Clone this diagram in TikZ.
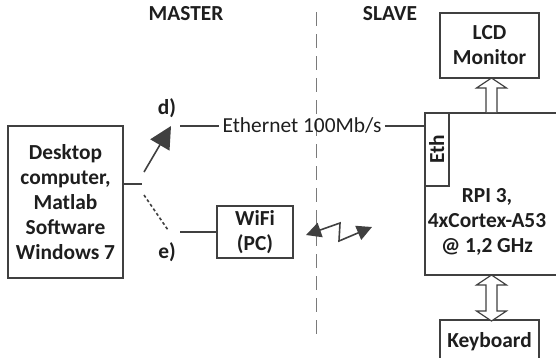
\documentclass[tikz,border=0pt]{standalone}
\usepackage{fontspec}
\setmainfont{Carlito}
\usepackage{tikz}
\usetikzlibrary{arrows.meta,positioning,calc}
\definecolor{Line}{HTML}{404040}
\definecolor{Txt}{HTML}{1E1E1E}
\definecolor{Sep}{HTML}{7A7A7A}

\begin{document}
\begin{tikzpicture}[
 x=1pt,y=-1pt,
 font=\fontsize{21.4}{25}\selectfont,text=Txt,
 b/.style={draw=Line,line width=1.6pt,align=center,font=\fontsize{21.4}{25}\selectfont\bfseries,inner sep=0pt},
 l/.style={font=\fontsize{21.4}{25}\selectfont\bfseries},
 w/.style={draw=Line,line width=1.6pt},
 hollow/.style={draw=Line,line width=1.2pt,fill=white,line join=miter},
 arr/.style={-{Triangle[length=22pt,width=22pt]},draw=Line,fill=Line,line width=1.6pt},
 zap/.style={{Triangle[length=15pt,width=15pt]}-{Triangle[length=15pt,width=15pt]},draw=Line,line width=1.6pt}
]
\clip (0,0) rectangle (556,357);
\node[l] (master) at (186,14) {MASTER};
\node[l] (slave) at (390,14) {SLAVE};
\draw[Sep,line width=1pt,dash pattern=on 14pt off 8pt] (316,12) -- (316,334);
\node[b,minimum width=115pt,minimum height=152pt] (pc) at (65.5,202) {Desktop\\computer,\\Matlab\\Software\\Windows 7};
\node[b,minimum width=76pt,minimum height=52pt] (wifi) at (255,232) {WiFi\\(PC)};
\node[b,minimum width=99pt,minimum height=65pt] (lcd) at (489.5,45.5) {LCD\\Monitor};
\node[b,minimum width=99pt,minimum height=44pt] (kbd) at (489.5,342) {Keyboard};
\node[b,minimum width=150pt,minimum height=162pt,anchor=north west] (rpi) at (424,112) {};
\node[l,align=center] (rpitxt) at (487,222) {RPI 3,\\4xCortex-A53\\@ 1,2 GHz};
\node[b,minimum width=24pt,minimum height=73pt,anchor=north west] (eth) at (424,112) {};
\node[l,rotate=90] (ethtxt) at (eth.center) {Eth};
\node (ethlbl) at (302,126) {Ethernet 100Mb/s};
\node[l] (d) at (167,108) {d)};
\node[l] (e) at (167,252) {e)};
\coordinate (pcout) at (142,184);
\coordinate (dtail) at (144,172);
\coordinate (dtip) at (171,126);
\coordinate (dend) at (180,126);
\coordinate (etail) at (144,195);
\coordinate (etip) at (168,230);
\coordinate (eend) at (180,232);
% links
\draw[w] (pc.east|-pcout) -- (pcout);
\draw[arr] (dtail) -- (dtip);
\draw[Line,line width=1.6pt,dash pattern=on 3pt off 2.5pt] (etail) -- (etip);
\draw[w] (dend) -- (ethlbl.west);
\draw[w] (ethlbl.east) -- (eth.west|-ethlbl);
\draw[w] (eend) -- (wifi.west);
% radio link
\coordinate (z1) at (306,235);
\coordinate (z2) at (340,223);
\coordinate (z3) at (339,241);
\coordinate (z4) at (372,227);
\draw[zap] (z1) -- (z2) -- (z3) -- (z4);
% hollow arrows
\draw[hollow] (rpi.north-|486,0) -- ++(0,-24) -- ++(-9.5,0) -- ++(15,-10) -- ++(15,10) -- ++(-9.5,0) -- ++(0,24);
\draw[hollow] (491.5,275) -- ++(15,10) -- ++(-9.5,0) -- ++(0,26) -- ++(9.5,0) -- ++(-15,10) -- ++(-15,-10) -- ++(9.5,0) -- ++(0,-26) -- ++(-9.5,0) -- cycle;
\end{tikzpicture}
\end{document}
